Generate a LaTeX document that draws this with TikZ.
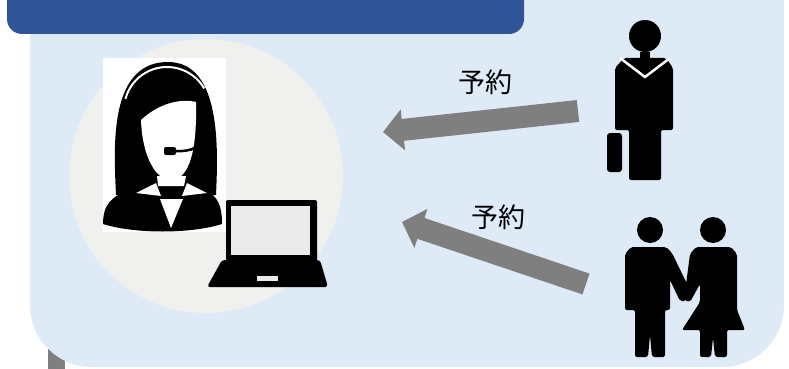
\documentclass[tikz,border=0pt]{standalone}
\usepackage{fontspec}
\usepackage{tikz}
\usetikzlibrary{arrows.meta}
\newfontfamily\jpfont{Noto Sans CJK JP}
\definecolor{panelblue}{HTML}{DEEAF6}
\definecolor{barblue}{HTML}{2F5597}
\definecolor{discgray}{HTML}{F0F0EE}
\definecolor{arrowgray}{HTML}{7F7F7F}
\definecolor{screengray}{HTML}{EBEBEB}

\begin{document}
\begin{tikzpicture}[
        x = 1pt, y = -1pt,
        figure/.style = {fill=black, draw=none, rounded corners=2pt},
        fatarrow/.style = {
            draw=arrowgray,
            line width = 22pt,
            -{Triangle[width=40pt, length=20pt]}
        },
        word/.style = {
            font=\jpfont\fontsize{27}{27}\selectfont,
            inner sep = 0pt
        }
    ]
    \clip (0,0) rectangle (789,369);

    % background
    \fill[arrowgray] (48,348) rectangle (65,369);
    \fill[panelblue, rounded corners=62pt] (30,-100) rectangle (784,367);
    \fill[barblue, rounded corners=15pt] (7,-40) rectangle (524,34);

    % operator
    \node[circle, fill=discgray, minimum size=274pt, inner sep=0pt] (desk) at (206,176) {};
    \fill[white] (103,58) rectangle (226,232);
    \fill (116,195) .. controls (114,150) and (108,64) .. (166,62)
        .. controls (222,60) and (218,150) .. (216,195) -- cycle;
    \draw[white, line width=2pt] ([shift={(195:43)}]167,110) arc[start angle=195, end angle=330, radius=43];
    \fill (103,224) .. controls (103,204) and (112,196) .. (130,190) -- (155,178)
        -- (190,178) -- (205,190) .. controls (218,196) and (222,206) .. (222,224)
        .. controls (190,234) and (135,234) .. (103,224) -- cycle;
    \fill[white] (141,120) .. controls (142,150) and (152,178) .. (171,181)
        .. controls (190,178) and (197,150) .. (196,102)
        .. controls (180,98) and (158,104) .. (141,120) -- cycle;
    \fill[white] (157,176) -- (186,176) -- (184,186) -- (158,186) -- cycle;
    \fill[white] (136,193) -- (156,183) -- (161,196) -- cycle;
    \fill[white] (207,193) -- (187,183) -- (182,196) -- cycle;
    \fill[white] (160,199) -- (183,199) -- (171,228) -- cycle;
    \draw[line width=2.5pt, line cap=round] (203,138) .. controls (200,150) and (186,152) .. (170,151);
    \fill[rounded corners=2pt] (164,147) rectangle (176,155);

    % laptop
    \fill[rounded corners=2pt] (226,200) rectangle (317,262);
    \fill[screengray] (231,206) rectangle (310,255);
    \fill[rounded corners=3pt] (222,260) -- (320,260) -- (328,287) -- (207,287) -- cycle;
    \fill[screengray] (257,276) rectangle (278,281);

    % traveller
    \fill (645,36) circle (16);
    \fill[figure] (615,130) -- (615,68) -- (624,58) -- (666,58) -- (673,68)
        -- (673,130) -- (661,130) -- (661,180) -- (629,180) -- (629,130) -- cycle;
    \draw[white, line width=2.5pt] (620,58) -- (645,77) -- (670,58);
    \fill (640,52) rectangle (650,72);
    \fill[rounded corners=3pt] (607,133) rectangle (622,172);

    % couple
    \fill (650,230) circle (13);
    \fill (713,230) circle (13);
    \fill[figure] (625,310) -- (625,254) -- (631,247) -- (666,247) -- (672,253)
        -- (690,290) -- (686,301) -- (680,301) -- (670,280) -- (670,310)
        -- (665,310) -- (665,357) -- (652,357) -- (650,335) -- (648,357)
        -- (635,357) -- (635,310) -- cycle;
    \fill[figure] (690,254) -- (696,247) -- (731,247) -- (737,254) -- (737,310)
        -- (745,330) -- (727,330) -- (727,357) -- (715,357) -- (713,338)
        -- (711,357) -- (700,357) -- (700,330) -- (682,330) -- (700,302)
        -- (700,284) -- (690,302) -- (684,300) -- cycle;

    % bookings
    \coordinate (from1) at (578,111);
    \coordinate (to1) at (383,132);
    \coordinate (from2) at (586,284);
    \coordinate (to2) at (402,222);
    \draw[fatarrow] (from1) -- (to1);
    \draw[fatarrow] (from2) -- (to2);
    \node[word] (book1) at (485,82) {予約};
    \node[word] (book2) at (498,217) {予約};
\end{tikzpicture}
\end{document}
